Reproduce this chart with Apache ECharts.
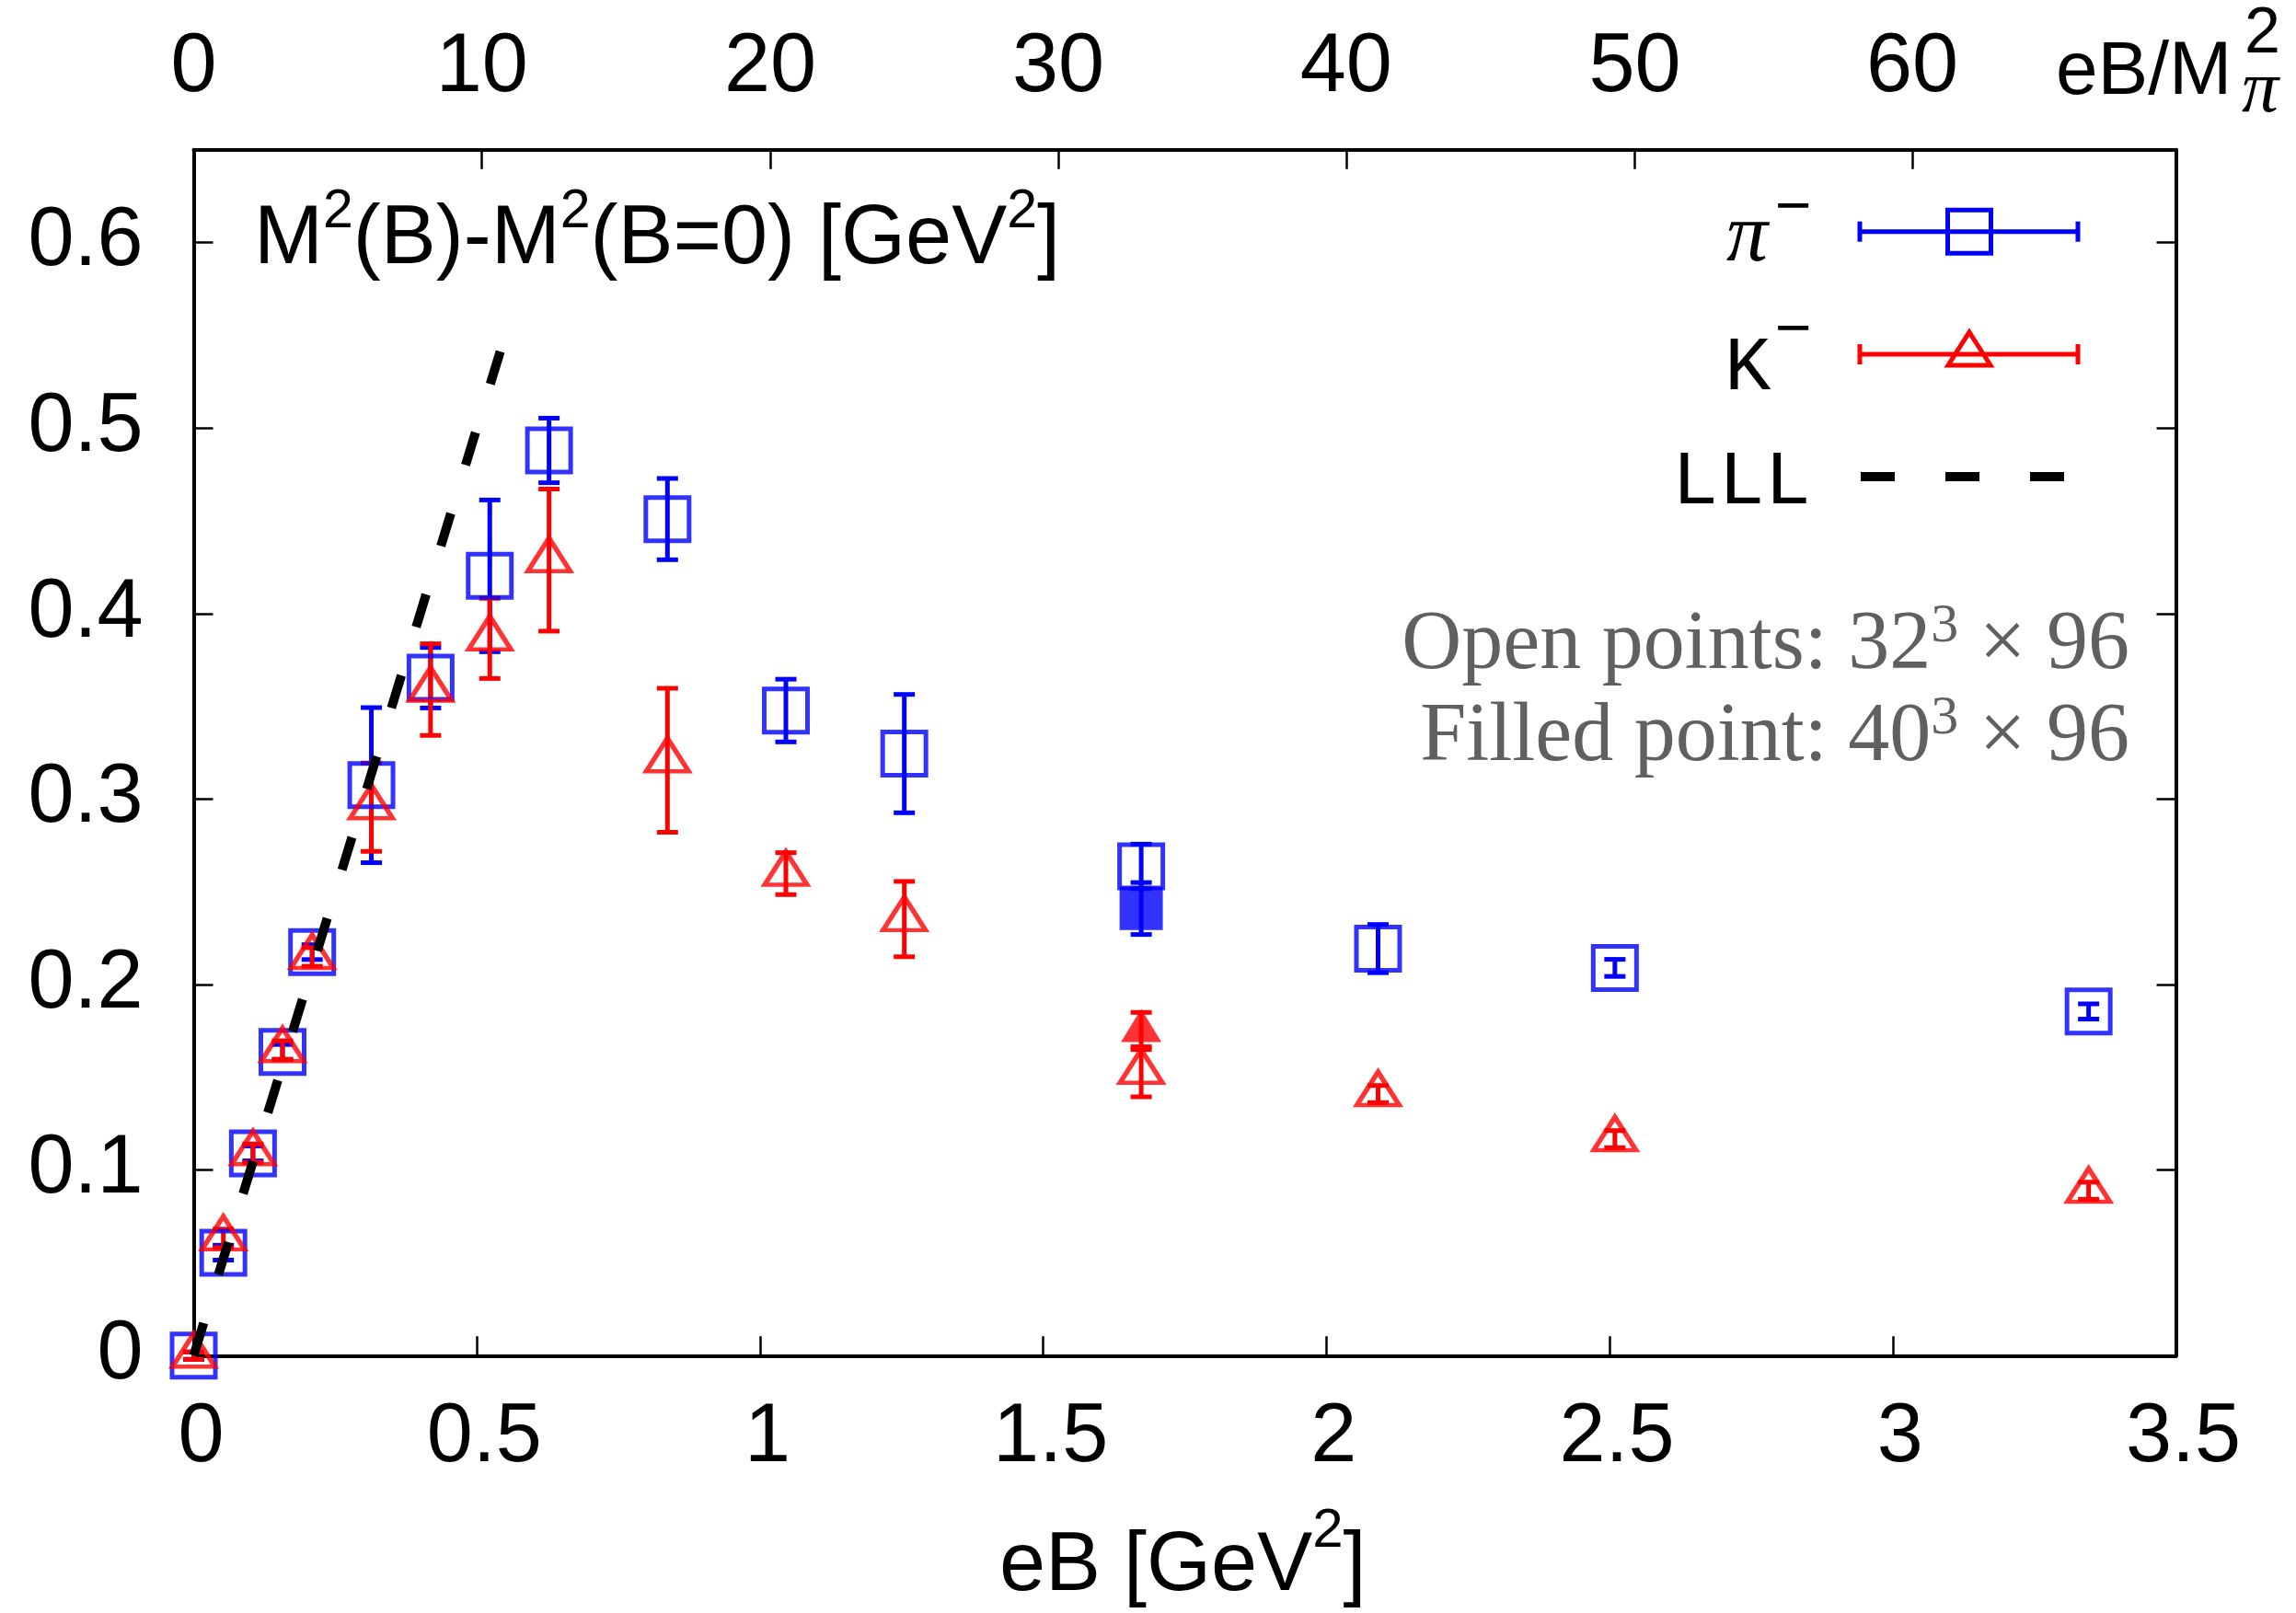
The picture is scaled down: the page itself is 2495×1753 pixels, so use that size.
<!DOCTYPE html>
<html><head><meta charset="utf-8">
<script src="https://cdn.jsdelivr.net/npm/echarts@6/dist/echarts.min.js"></script>
<style>html,body{margin:0;padding:0;background:#fff}#c{width:2495px;height:1753px}</style>
</head><body><div id="c"></div>
<script>
// ---------------- data ----------------
const eB      = [0, 0.0523, 0.1046, 0.1568, 0.2091, 0.3137, 0.4182, 0.5228, 0.6274, 0.8365, 1.0456, 1.2547, 1.6730, 2.0912, 2.5094, 3.3459];
const piM2    = [0, 0.0555, 0.1090, 0.1637, 0.2175, 0.3075, 0.3654, 0.4203, 0.4879, 0.4509, 0.3477, 0.3245, 0.2637, 0.2194, 0.2090, 0.1855];
const piErr   = [0.002, 0.004, 0.004, 0.004, 0.004, 0.0418, 0.0163, 0.0409, 0.0174, 0.0219, 0.0169, 0.0319, 0.0120, 0.0130, 0.0046, 0.0041];
const kM2     = [0, 0.0632, 0.1091, 0.1647, 0.2149, 0.2956, 0.3590, 0.3866, 0.4288, 0.3209, 0.2598, 0.2353, 0.1530, 0.1410, 0.1167, 0.0889];
const kErr    = [0.002, 0.005, 0.005, 0.005, 0.005, 0.0238, 0.0247, 0.0216, 0.0383, 0.0388, 0.0113, 0.0203, 0.0135, 0.0046, 0.0046, 0.0046];
// filled points (40^3 x 96 lattice)
const eBFilled    = [1.6730];
const piFilled    = [0.2410];
const piFilledErr = [0.0140];
const kFilled     = [0.1750];
const kFilledErr  = [0.0100];
// LLL line
const lllX = [0, 0.545];
const lllY = [0, 0.545];
// axes
const xMin = 0, xMax = 3.5, xStep = 0.5;
const yMin = 0, yMax = 0.65, yStep = 0.1;
// top axis (eB/M_pi^2): tick labels and the eB values where the picture puts them
const x2Labels  = ['0', '10', '20', '30', '40', '50', '60'];
const x2TickPos = [0, 0.5089, 1.0180, 1.5266, 2.0349, 2.5445, 3.0346];

// ---------------- build ----------------
const SANS = 'Liberation Sans', SERIF = 'Liberation Serif';
const BLUE = '#0000ff', RED = '#ff0000';
const zip3 = (a, b, c) => a.map((v, i) => [v, b[i], c[i]]);
const zip2 = (a, b) => a.map((v, i) => [v, b[i]]);
const isMult = (v, s) => Math.abs(v / s - Math.round(v / s)) < 1e-6;
const x2Label = v => {
  let best = 0;
  x2TickPos.forEach((p, i) => { if (Math.abs(p - v) < Math.abs(x2TickPos[best] - v)) best = i; });
  return Math.abs(x2TickPos[best] - v) < 1e-6 ? x2Labels[best] : '';
};

function errBar(color) {
  return function (params, api) {
    const x = api.value(0), y = api.value(1), e = api.value(2);
    const t = api.coord([x, y + e]), b = api.coord([x, y - e]);
    const hw = 11.5;
    const st = { stroke: color, lineWidth: 5 };
    return { type: 'group', children: [
      { type: 'line', shape: { x1: t[0], y1: t[1], x2: b[0], y2: b[1] }, style: st },
      { type: 'line', shape: { x1: t[0] - hw, y1: t[1], x2: t[0] + hw, y2: t[1] }, style: st },
      { type: 'line', shape: { x1: b[0] - hw, y1: b[1], x2: b[0] + hw, y2: b[1] }, style: st }
    ]};
  };
}

const axisLine = { show: true, onZero: false, lineStyle: { color: '#000', width: 4 } };
const tickStyle = { color: '#000', width: 2.5 };
const lab = { fontSize: 90, fontFamily: SANS, color: '#000', lineHeight: 90 };

const chart = echarts.init(document.getElementById('c'), null, { renderer: 'canvas' });
const option = {
  backgroundColor: '#fff',
  animation: false,
  grid: { left: 210.5, right: 130.5, top: 162.7, bottom: 279.7, show: false },
  xAxis: [
    { type: 'value', position: 'bottom', min: xMin, max: xMax, interval: xStep,
      axisLine, splitLine: { show: false },
      axisTick: { show: true, inside: true, length: 21, lineStyle: tickStyle },
      axisLabel: Object.assign({ margin: 45, padding: [0, 0, 0, 16],
        formatter: v => isMult(v, xStep) ? String(+v.toFixed(2)) : '' }, lab) },
    { type: 'value', position: 'top', min: xMin, max: xMax,
      axisLine, splitLine: { show: false },
      axisTick: { show: true, inside: true, length: 21, lineStyle: tickStyle, customValues: x2TickPos },
      axisLabel: Object.assign({ margin: 44, customValues: x2TickPos, formatter: x2Label }, lab) }
  ],
  yAxis: [
    { type: 'value', position: 'left', min: yMin, max: yMax, interval: yStep,
      axisLine, splitLine: { show: false },
      axisTick: { show: true, inside: true, length: 21, lineStyle: tickStyle },
      axisLabel: Object.assign({ margin: 55, formatter: v => isMult(v, yStep) ? String(+v.toFixed(2)) : '' }, lab) },
    { type: 'value', position: 'right', min: yMin, max: yMax, interval: yStep,
      axisLine, splitLine: { show: false },
      axisTick: { show: true, inside: true, length: 21, lineStyle: tickStyle },
      axisLabel: { show: false } }
  ],
  series: [
    { type: 'custom', name: 'pi err', xAxisIndex: 0, yAxisIndex: 0, z: 2, clip: false,
      renderItem: errBar(BLUE), data: zip3(eB, piM2, piErr).concat(zip3(eBFilled, piFilled, piFilledErr)) },
    { type: 'custom', name: 'K err', xAxisIndex: 0, yAxisIndex: 0, z: 2, clip: false,
      renderItem: errBar(RED), data: zip3(eB, kM2, kErr).concat(zip3(eBFilled, kFilled, kFilledErr)) },
    { type: 'scatter', name: 'pi', z: 3, clip: false, symbol: 'rect', symbolSize: 47,
      itemStyle: { color: 'transparent', borderColor: BLUE, borderWidth: 5 }, data: zip2(eB, piM2) },
    { type: 'scatter', name: 'pi filled', z: 3, clip: false, symbol: 'rect', symbolSize: 47,
      itemStyle: { color: BLUE, borderWidth: 0 }, data: zip2(eBFilled, piFilled) },
    { type: 'scatter', name: 'K', z: 4, clip: false, symbol: 'triangle', symbolSize: [46, 36], symbolOffset: [0, -6],
      itemStyle: { color: 'transparent', borderColor: RED, borderWidth: 5 }, data: zip2(eB, kM2) },
    { type: 'scatter', name: 'K filled', z: 4, clip: false, symbol: 'triangle', symbolSize: [44, 36], symbolOffset: [0, -6],
      itemStyle: { color: RED, borderWidth: 0 }, data: zip2(eBFilled, kFilled) },
    { type: 'line', name: 'LLL', z: 5, clip: false, symbol: 'none', silent: true,
      lineStyle: { color: '#000', width: 10, type: [37, 55], cap: 'butt' }, data: zip2(lllX, lllY) }
  ],
  graphic: [
    // title
    { type: 'text', x: 276, y: 201, z: 10, style: {
        text: '{a|M}{s|2}{a|(B)-M}{s|2}{a|(B=0) [GeV}{s|2}{a|]}', fill: '#000', align: 'left', verticalAlign: 'top',
        rich: { a: { fontSize: 90, fontFamily: SANS, lineHeight: 120, verticalAlign: 'middle', fill: '#000' },
                s: { fontSize: 59, fontFamily: SANS, lineHeight: 59, verticalAlign: 'top', fill: '#000' } } } },
    // annotation
    { type: 'text', x: 2314, y: 651, z: 10, style: {
        text: '{a|Open points: 32}{s|3}{a| × 96}', fill: '#606060', align: 'right', verticalAlign: 'top',
        rich: { a: { fontSize: 90, fontFamily: SERIF, lineHeight: 102, verticalAlign: 'middle', fill: '#606060' },
                s: { fontSize: 60, fontFamily: SERIF, lineHeight: 60, verticalAlign: 'top', fill: '#606060' } } } },
    { type: 'text', x: 2314, y: 751, z: 10, style: {
        text: '{a|Filled point: 40}{s|3}{a| × 96}', fill: '#606060', align: 'right', verticalAlign: 'top',
        rich: { a: { fontSize: 90, fontFamily: SERIF, lineHeight: 102, verticalAlign: 'middle', fill: '#606060' },
                s: { fontSize: 60, fontFamily: SERIF, lineHeight: 60, verticalAlign: 'top', fill: '#606060' } } } },
    // x axis name
    { type: 'text', x: 1086, y: 1634, z: 10, style: {
        text: '{a|eB [GeV}{s|2}{a|]}', fill: '#000', align: 'left', verticalAlign: 'top',
        rich: { a: { fontSize: 90, fontFamily: SANS, lineHeight: 138, verticalAlign: 'middle', fill: '#000' },
                s: { fontSize: 60, fontFamily: SANS, lineHeight: 60, verticalAlign: 'top', fill: '#000' } } } },
    // top axis name
    { type: 'text', x: 2234, y: 79.6, z: 10, style: { text: 'eB/M', fill: '#000', font: '82px "Liberation Sans"', align: 'left', verticalAlign: 'middle' } },
    { type: 'text', x: 2439, y: 38, z: 10, style: { text: '2', fill: '#000', font: '70px "Liberation Sans"', align: 'left', verticalAlign: 'middle' } },
    { type: 'text', x: 2436, y: 100, z: 10, style: { text: 'π', fill: '#000', font: 'italic 80px "Liberation Serif"', align: 'left', verticalAlign: 'middle' } },
    // legend labels
    { type: 'text', x: 1876, y: 259.6, z: 10, style: { text: 'π', fill: '#000', font: 'italic 90px "Liberation Serif"', align: 'left', verticalAlign: 'middle' } },
    { type: 'text', x: 1929, y: 227, z: 10, style: { text: '−', fill: '#000', font: '68px "Liberation Sans"', align: 'left', verticalAlign: 'middle' } },
    { type: 'text', x: 1874, y: 400.6, z: 10, style: { text: 'K', fill: '#000', font: '84px "Liberation Mono"', align: 'left', verticalAlign: 'middle' } },
    { type: 'text', x: 1929, y: 360, z: 10, style: { text: '−', fill: '#000', font: '68px "Liberation Sans"', align: 'left', verticalAlign: 'middle' } },
    { type: 'text', x: 1968, y: 524.6, z: 10, style: { text: 'LLL', fill: '#000', font: '84px "Liberation Mono"', align: 'right', verticalAlign: 'middle' } },
    // legend samples
    { type: 'line', z: 10, shape: { x1: 2021, y1: 251.7, x2: 2258, y2: 251.7 }, style: { stroke: BLUE, lineWidth: 5 } },
    { type: 'line', z: 10, shape: { x1: 2021, y1: 240.7, x2: 2021, y2: 262.7 }, style: { stroke: BLUE, lineWidth: 5 } },
    { type: 'line', z: 10, shape: { x1: 2258, y1: 240.7, x2: 2258, y2: 262.7 }, style: { stroke: BLUE, lineWidth: 5 } },
    { type: 'rect', z: 10, shape: { x: 2116.5, y: 228.2, width: 47, height: 47 }, style: { fill: 'none', stroke: BLUE, lineWidth: 5 } },
    { type: 'line', z: 10, shape: { x1: 2021, y1: 385, x2: 2258, y2: 385 }, style: { stroke: RED, lineWidth: 5 } },
    { type: 'line', z: 10, shape: { x1: 2021, y1: 374, x2: 2021, y2: 396 }, style: { stroke: RED, lineWidth: 5 } },
    { type: 'line', z: 10, shape: { x1: 2258, y1: 374, x2: 2258, y2: 396 }, style: { stroke: RED, lineWidth: 5 } },
    { type: 'polygon', z: 10, shape: { points: [[2140, 361], [2163, 397], [2117, 397]] }, style: { fill: 'none', stroke: RED, lineWidth: 5 } },
    { type: 'line', z: 10, shape: { x1: 2022, y1: 518, x2: 2244, y2: 518 }, style: { stroke: '#000', lineWidth: 10, lineDash: [37, 55] } }
  ]
};
chart.setOption(option);
</script>
</body></html>
